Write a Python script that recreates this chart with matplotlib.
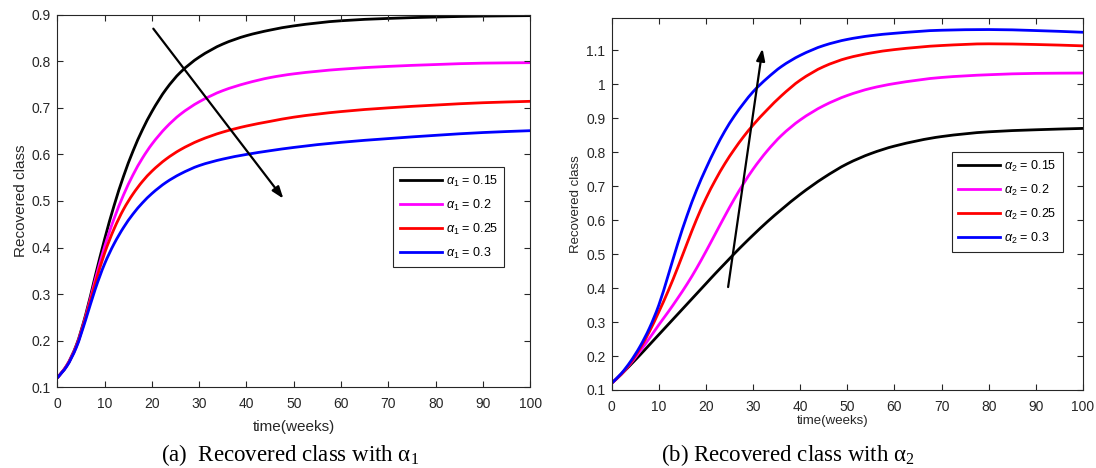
import matplotlib
matplotlib.use("Agg")
import matplotlib.pyplot as plt
from matplotlib.path import Path
from matplotlib.patches import PathPatch
from matplotlib.lines import Line2D

plt.rcParams['font.family'] = ['Liberation Sans', 'DejaVu Sans']
plt.rcParams['mathtext.fontset'] = 'custom'
plt.rcParams['mathtext.it'] = 'Liberation Sans:italic'
plt.rcParams['mathtext.rm'] = 'Liberation Sans'

# ---- panel (a): recovered class for several alpha_1 ----
t_a = [0, 2, 4, 6, 8, 10, 12, 14, 16, 18, 20, 23, 26, 30, 35, 40, 45, 50, 60, 70, 80, 90, 100]
rec_a1_015 = [0.12, 0.147, 0.19, 0.256, 0.338, 0.418, 0.49, 0.553, 0.607, 0.653, 0.692, 0.74, 0.776,
              0.809, 0.837, 0.855, 0.867, 0.876, 0.887, 0.892, 0.895, 0.897, 0.898]
rec_a1_020 = [0.12, 0.147, 0.188, 0.252, 0.33, 0.402, 0.462, 0.513, 0.556, 0.592, 0.622, 0.658, 0.686,
              0.713, 0.737, 0.753, 0.765, 0.773, 0.783, 0.789, 0.793, 0.796, 0.797]
rec_a1_025 = [0.12, 0.146, 0.187, 0.25, 0.322, 0.388, 0.44, 0.482, 0.515, 0.542, 0.564, 0.59, 0.61,
              0.63, 0.648, 0.661, 0.671, 0.68, 0.692, 0.70, 0.706, 0.711, 0.714]
rec_a1_030 = [0.12, 0.145, 0.185, 0.245, 0.31, 0.365, 0.408, 0.443, 0.472, 0.496, 0.516, 0.54, 0.558,
              0.576, 0.59, 0.60, 0.608, 0.615, 0.626, 0.634, 0.641, 0.647, 0.651]
labels_a = [r'$\alpha_1$ = 0.15', r'$\alpha_1$ = 0.2', r'$\alpha_1$ = 0.25', r'$\alpha_1$ = 0.3']
arrow_a = [(20.3, 0.87), (47.8, 0.505)]   # (start, tip) in data units

# ---- panel (b): recovered class for several alpha_2 ----
t_b = [0, 2, 4, 6, 8, 10, 12, 14, 16, 18, 20, 22, 24, 26, 28, 30, 33, 36, 40, 45, 50, 55, 60, 70, 80, 90, 100]
rec_a2_015 = [0.12, 0.146, 0.174, 0.203, 0.233, 0.263, 0.293, 0.323, 0.353, 0.383, 0.413, 0.443, 0.472,
              0.501, 0.529, 0.556, 0.595, 0.631, 0.676, 0.725, 0.766, 0.796, 0.818, 0.846, 0.86, 0.866, 0.870]
rec_a2_020 = [0.12, 0.146, 0.178, 0.214, 0.252, 0.292, 0.33, 0.37, 0.412, 0.458, 0.508, 0.56, 0.612,
              0.662, 0.708, 0.75, 0.804, 0.849, 0.895, 0.937, 0.967, 0.988, 1.002, 1.020, 1.028, 1.032, 1.033]
rec_a2_025 = [0.12, 0.146, 0.18, 0.222, 0.272, 0.33, 0.392, 0.46, 0.532, 0.602, 0.664, 0.718, 0.766,
              0.808, 0.846, 0.88, 0.925, 0.966, 1.012, 1.052, 1.077, 1.092, 1.102, 1.114, 1.119, 1.117, 1.113]
rec_a2_030 = [0.12, 0.148, 0.184, 0.228, 0.282, 0.35, 0.438, 0.53, 0.614, 0.688, 0.752, 0.81, 0.862,
              0.906, 0.944, 0.978, 1.018, 1.052, 1.085, 1.114, 1.132, 1.143, 1.15, 1.159, 1.161, 1.158, 1.153]
labels_b = [r'$\alpha_2$ = 0.15', r'$\alpha_2$ = 0.2', r'$\alpha_2$ = 0.25', r'$\alpha_2$ = 0.3']
arrow_b = [(24.7, 0.403), (32.0, 1.105)]

colors = ['#000000', '#FF00FF', '#FF0000', '#0000FF']
axis_grey = '#262626'

fig = plt.figure(figsize=(10.96, 4.68), dpi=100)
ax_a = fig.add_axes([0.05228, 0.17244, 0.43157, 0.79615])
ax_b = fig.add_axes([0.55812, 0.16667, 0.43002, 0.79487])


def smooth_path(x, y):
    """Cubic Bezier path through the samples (monotone Hermite tangents)."""
    n = len(x)
    h = [x[i + 1] - x[i] for i in range(n - 1)]
    d = [(y[i + 1] - y[i]) / h[i] for i in range(n - 1)]
    m = [0.0] * n
    m[0], m[-1] = d[0], d[-1]
    for i in range(1, n - 1):
        if d[i - 1] * d[i] <= 0:
            m[i] = 0.0
        else:
            w1 = 2 * h[i] + h[i - 1]
            w2 = h[i] + 2 * h[i - 1]
            m[i] = (w1 + w2) / (w1 / d[i - 1] + w2 / d[i])
    verts = [(x[0], y[0])]
    codes = [Path.MOVETO]
    for i in range(n - 1):
        verts += [(x[i] + h[i] / 3, y[i] + m[i] * h[i] / 3),
                  (x[i + 1] - h[i] / 3, y[i + 1] - m[i + 1] * h[i] / 3),
                  (x[i + 1], y[i + 1])]
        codes += [Path.CURVE4] * 3
    return Path(verts, codes)


def style_axes(ax, ylim, yticks, label_size):
    ax.set_xlim(0, 100)
    ax.set_ylim(*ylim)
    ax.set_xticks(range(0, 101, 10))
    ax.set_yticks(yticks)
    ax.set_yticklabels([('%g' % v) for v in yticks])
    ax.tick_params(direction='in', length=4, width=0.8, top=True, right=True,
                   labelsize=10, colors=axis_grey)
    ax.tick_params(axis='x', pad=7)
    ax.tick_params(axis='y', pad=4.5)
    for s in ax.spines.values():
        s.set_color(axis_grey)
        s.set_linewidth(0.8)
    ax.set_xlabel('time(weeks)', fontsize=label_size, color=axis_grey)
    ax.set_ylabel('Recovered class', fontsize=label_size, color=axis_grey, labelpad=3)


def draw_panel(ax, t, series, labels, arrow, legend_anchor):
    handles = []
    for y, c, lab in zip(series, colors, labels):
        ax.add_patch(PathPatch(smooth_path(t, y), fill=False, edgecolor=c, lw=2.0,
                               capstyle='butt', joinstyle='round'))
        handles.append(Line2D([], [], color=c, lw=2.0, label=lab))
    ax.annotate('', xy=arrow[1], xytext=arrow[0],
                arrowprops=dict(arrowstyle='-|>,head_length=0.7,head_width=0.25',
                                color='black', lw=1.6, shrinkA=0, shrinkB=0))
    leg = ax.legend(handles=handles, loc='upper left', bbox_to_anchor=legend_anchor, fontsize=9,
                    frameon=True, fancybox=False, framealpha=1, edgecolor=axis_grey,
                    handlelength=3.4, handletextpad=0.3, labelspacing=0.72,
                    borderpad=0.5, borderaxespad=0)
    leg.get_frame().set_linewidth(0.8)


draw_panel(ax_a, t_a, [rec_a1_015, rec_a1_020, rec_a1_025, rec_a1_030], labels_a, arrow_a, (0.7104, 0.5904))
style_axes(ax_a, (0.1, 0.9), [0.1 * k for k in range(1, 10)], 11)
ax_a.xaxis.set_label_coords(0.5, -0.087)

draw_panel(ax_b, t_b, [rec_a2_015, rec_a2_020, rec_a2_025, rec_a2_030], labels_b, arrow_b, (0.7214, 0.639))
style_axes(ax_b, (0.1, 1.195), [round(0.1 * k, 1) for k in range(1, 12)], 9.5)
ax_b.xaxis.set_label_coords(0.469, -0.066)

serif = ['Liberation Serif', 'DejaVu Serif']
fig.text(290 / 1096, 1 - 455 / 468, r'(a)  Recovered class with $\mathregular{α_1}$',
         ha='center', va='center', fontsize=16.5, family=serif)
fig.text(788 / 1096, 1 - 455 / 468, r'(b) Recovered class with $\mathregular{α_2}$',
         ha='center', va='center', fontsize=16.5, family=serif)

fig.savefig('out.png', dpi=100)
